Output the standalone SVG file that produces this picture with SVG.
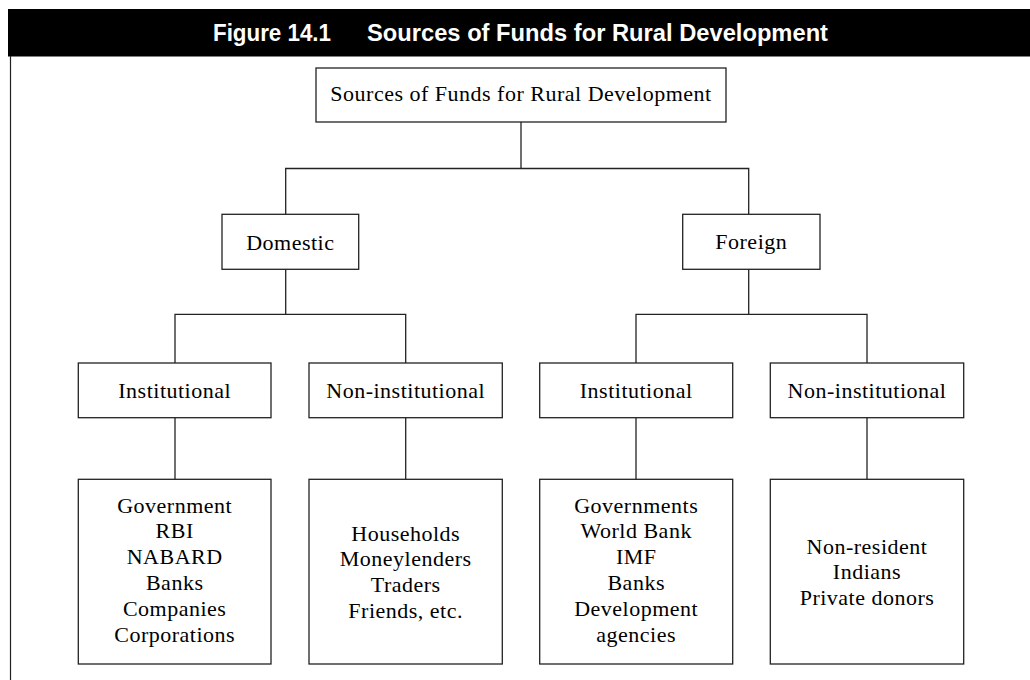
<svg xmlns="http://www.w3.org/2000/svg" width="1030" height="680" viewBox="0 0 1030 680">
  <style>
    .box { fill: #ffffff; stroke: #222222; stroke-width: 1.3; }
    .link { fill: none; stroke: #222222; stroke-width: 1.3; }
    .lbl { font-family: "Liberation Serif", "Times New Roman", serif; font-size: 22px; letter-spacing: 0.5px; fill: #000000; text-anchor: middle; }
    .title { font-family: "Liberation Sans", Arial, sans-serif; font-size: 24px; font-weight: bold; fill: #ffffff; }
  </style>

  <rect width="1030" height="680" fill="#ffffff"/>

  <!-- figure heading bar and left frame rule -->
  <g id="heading">
    <rect x="8" y="9" width="1022" height="47.5" fill="#000000"/>
    <text class="title" x="213" y="41" textLength="118" lengthAdjust="spacingAndGlyphs">Figure 14.1</text>
    <text class="title" x="367" y="41" textLength="461" lengthAdjust="spacingAndGlyphs">Sources of Funds for Rural Development</text>
    <line x1="10.5" y1="56" x2="10.5" y2="680" stroke="#222222" stroke-width="1.2"/>
  </g>

  <!-- connectors -->
  <g id="connectors" class="link">
    <polyline points="521,122 521,168.5"/>
    <polyline points="285.7,214.3 285.7,168.5 748.7,168.5 748.7,214.3"/>
    <polyline points="285.7,269.3 285.7,314.3"/>
    <polyline points="175,363 175,314.3 405.7,314.3 405.7,363"/>
    <polyline points="748.7,269.3 748.7,314.3"/>
    <polyline points="636,363 636,314.3 867,314.3 867,363"/>
    <line x1="175" y1="417.7" x2="175" y2="479.3"/>
    <line x1="405.7" y1="417.7" x2="405.7" y2="479.3"/>
    <line x1="636" y1="417.7" x2="636" y2="479.3"/>
    <line x1="867" y1="417.7" x2="867" y2="479.3"/>
  </g>

  <!-- root -->
  <g id="root">
    <rect class="box" x="316" y="68" width="410" height="54"/>
    <text class="lbl" x="521" y="101">Sources of Funds for Rural Development</text>
  </g>

  <!-- second level -->
  <g id="domestic">
    <rect class="box" x="222" y="214.3" width="136.7" height="55"/>
    <text class="lbl" x="290.3" y="249.5">Domestic</text>
  </g>
  <g id="foreign">
    <rect class="box" x="682.7" y="214.3" width="137.3" height="55"/>
    <text class="lbl" x="751.3" y="248.5">Foreign</text>
  </g>

  <!-- third level -->
  <g id="dom-institutional">
    <rect class="box" x="78.3" y="363" width="192.7" height="54.7"/>
    <text class="lbl" x="174.7" y="398">Institutional</text>
  </g>
  <g id="dom-non-institutional">
    <rect class="box" x="309" y="363" width="193.3" height="54.7"/>
    <text class="lbl" x="405.7" y="398">Non-institutional</text>
  </g>
  <g id="for-institutional">
    <rect class="box" x="539.7" y="363" width="193" height="54.7"/>
    <text class="lbl" x="636.2" y="398">Institutional</text>
  </g>
  <g id="for-non-institutional">
    <rect class="box" x="770.3" y="363" width="193.4" height="54.7"/>
    <text class="lbl" x="867" y="398">Non-institutional</text>
  </g>

  <!-- leaf lists -->
  <g id="dom-institutional-list">
    <rect class="box" x="78.3" y="479.3" width="192.7" height="184.7"/>
    <text class="lbl" x="174.7" y="512.5">Government</text>
    <text class="lbl" x="174.7" y="538.4">RBI</text>
    <text class="lbl" x="174.7" y="564.3">NABARD</text>
    <text class="lbl" x="174.7" y="590.2">Banks</text>
    <text class="lbl" x="174.7" y="616.1">Companies</text>
    <text class="lbl" x="174.7" y="642">Corporations</text>
  </g>
  <g id="dom-non-institutional-list">
    <rect class="box" x="309" y="479.3" width="193.3" height="184.7"/>
    <text class="lbl" x="405.7" y="540.5">Households</text>
    <text class="lbl" x="405.7" y="566.4">Moneylenders</text>
    <text class="lbl" x="405.7" y="592.3">Traders</text>
    <text class="lbl" x="405.7" y="618.2">Friends, etc.</text>
  </g>
  <g id="for-institutional-list">
    <rect class="box" x="539.7" y="479.3" width="193" height="184.7"/>
    <text class="lbl" x="636.2" y="512.5">Governments</text>
    <text class="lbl" x="636.2" y="538.4">World Bank</text>
    <text class="lbl" x="636.2" y="564.3">IMF</text>
    <text class="lbl" x="636.2" y="590.2">Banks</text>
    <text class="lbl" x="636.2" y="616.1">Development</text>
    <text class="lbl" x="636.2" y="642">agencies</text>
  </g>
  <g id="for-non-institutional-list">
    <rect class="box" x="770.3" y="479.3" width="193.4" height="184.7"/>
    <text class="lbl" x="867" y="553.5">Non-resident</text>
    <text class="lbl" x="867" y="579.4">Indians</text>
    <text class="lbl" x="867" y="605.3">Private donors</text>
  </g>
</svg>
